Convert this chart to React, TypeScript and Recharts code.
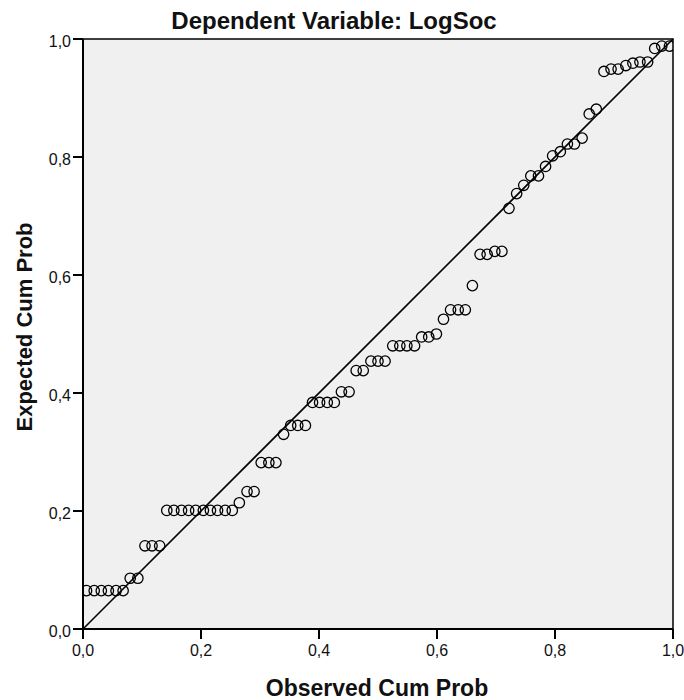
import React from 'react';
import {
  ScatterChart,
  Scatter,
  XAxis,
  YAxis,
  CartesianGrid,
  ReferenceLine,
  ReferenceArea,
  Label,
} from 'recharts';

// Observed cumulative probability (x) for each case
const observed = [
  0.006, 0.019, 0.031, 0.043, 0.056, 0.068, 0.080, 0.093, 0.105, 0.117,
  0.130, 0.142, 0.154, 0.167, 0.179, 0.191, 0.204, 0.216, 0.228, 0.241,
  0.253, 0.265, 0.278, 0.290, 0.302, 0.315, 0.327, 0.340, 0.352, 0.364,
  0.377, 0.389, 0.401, 0.414, 0.426, 0.438, 0.451, 0.463, 0.475, 0.488,
  0.500, 0.512, 0.525, 0.537, 0.549, 0.562, 0.574, 0.586, 0.599, 0.611,
  0.623, 0.636, 0.648, 0.660, 0.673, 0.685, 0.698, 0.710, 0.722, 0.735,
  0.747, 0.759, 0.772, 0.784, 0.796, 0.809, 0.821, 0.833, 0.846, 0.858,
  0.870, 0.883, 0.895, 0.907, 0.920, 0.932, 0.944, 0.957, 0.969, 0.981,
  0.994,
];

// Expected cumulative probability (y) for each case
const expected = [
  0.065, 0.065, 0.065, 0.065, 0.065, 0.065, 0.086, 0.086, 0.141, 0.141,
  0.141, 0.201, 0.201, 0.201, 0.201, 0.201, 0.201, 0.201, 0.201, 0.201,
  0.201, 0.214, 0.233, 0.233, 0.282, 0.282, 0.282, 0.330, 0.345, 0.345,
  0.345, 0.384, 0.384, 0.384, 0.384, 0.402, 0.402, 0.438, 0.438, 0.454,
  0.454, 0.454, 0.480, 0.480, 0.480, 0.480, 0.495, 0.495, 0.500, 0.525,
  0.541, 0.541, 0.541, 0.582, 0.635, 0.635, 0.640, 0.640, 0.713, 0.738,
  0.752, 0.768, 0.768, 0.784, 0.802, 0.809, 0.822, 0.822, 0.832, 0.873,
  0.881, 0.945, 0.949, 0.949, 0.955, 0.959, 0.961, 0.961, 0.984, 0.988,
  0.988,
];

const xTicks = [0, 0.2, 0.4, 0.6, 0.8, 1.0];
const yTicks = [0, 0.2, 0.4, 0.6, 0.8, 1.0];

const titleText = 'Dependent Variable: LogSoc';
const xTitle = 'Observed Cum Prob';
const yTitle = 'Expected Cum Prob';

const data = observed.map((x, i) => ({ x, y: expected[i] }));

const FONT = "Arial, 'Liberation Sans', Helvetica, sans-serif";
const fmt = (v: number) => v.toFixed(1).replace('.', ',');

const Ring = (props: any) => {
  const { cx, cy } = props;
  if (cx == null || cy == null) return null;
  return <circle cx={cx} cy={cy} r={5.2} fill="none" stroke="#000" strokeWidth={1.3} />;
};

const TitleLabel = () => (
  <text x={334} y={29} textAnchor="middle" fontFamily={FONT} fontWeight="bold" fontSize={24} fill="#111">
    {titleText}
  </text>
);

const XTitleLabel = () => (
  <text x={377} y={696} textAnchor="middle" fontFamily={FONT} fontWeight="bold" fontSize={23} fill="#111">
    {xTitle}
  </text>
);

const YTitleLabel = () => (
  <text
    x={0}
    y={0}
    transform="translate(32,327) rotate(-90)"
    textAnchor="middle"
    fontFamily={FONT}
    fontWeight="bold"
    fontSize={22}
    fill="#111"
  >
    {yTitle}
  </text>
);

export default function App() {
  return (
    <div style={{ position: 'absolute', left: 0, top: 0, width: 684, height: 700, background: '#fff' }}>
      <ScatterChart width={684} height={700} margin={{ top: 39, right: 11, bottom: 0, left: 0 }}>
        <CartesianGrid horizontal={false} vertical={false} fill="#F0F0F0" />
        <XAxis
          type="number"
          dataKey="x"
          domain={[0, 1]}
          ticks={xTicks}
          tickFormatter={fmt}
          height={71}
          tickSize={10}
          tickMargin={6}
          axisLine={{ stroke: '#000', strokeWidth: 2 }}
          tickLine={{ stroke: '#000', strokeWidth: 2 }}
          tick={{ fill: '#111', fontSize: 16, fontFamily: FONT }}
          allowDataOverflow
        >
          <Label content={<XTitleLabel />} />
        </XAxis>
        <YAxis
          type="number"
          dataKey="y"
          domain={[0, 1]}
          ticks={yTicks}
          tickFormatter={fmt}
          width={83}
          tickSize={10}
          tickMargin={2}
          axisLine={{ stroke: '#000', strokeWidth: 2 }}
          tickLine={{ stroke: '#000', strokeWidth: 2 }}
          tick={{ fill: '#111', fontSize: 16, fontFamily: FONT, dy: 2 }}
          allowDataOverflow
        >
          <Label content={<YTitleLabel />} />
          <Label content={<TitleLabel />} />
        </YAxis>
        <ReferenceArea x1={0} x2={1} y1={0} y2={1} fill="none" fillOpacity={0} stroke="#000" strokeWidth={1.5} ifOverflow="visible" />
        <ReferenceLine
          segment={[
            { x: 0, y: 0 },
            { x: 1, y: 1 },
          ]}
          stroke="#000"
          strokeWidth={1.6}
          ifOverflow="visible"
        />
        <Scatter data={data} shape={Ring} isAnimationActive={false} />
      </ScatterChart>
    </div>
  );
}
